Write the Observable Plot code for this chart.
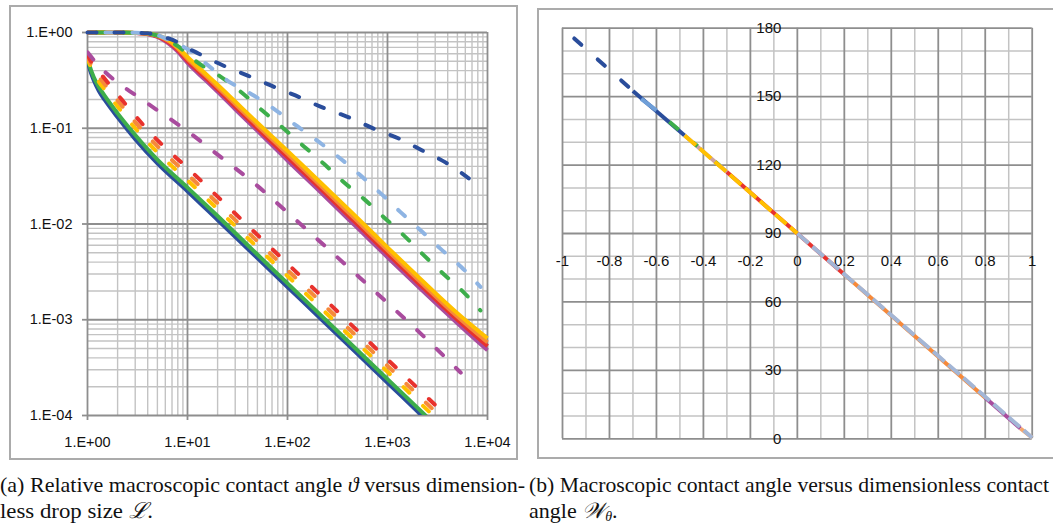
<!DOCTYPE html>
<html><head><meta charset="utf-8">
<script src="https://cdn.jsdelivr.net/npm/d3@7"></script>
<script src="https://cdn.jsdelivr.net/npm/@observablehq/plot@0.6"></script>
<style>
html,body{margin:0;padding:0;background:#fff;}
#wrap{position:relative;width:1053px;height:524px;overflow:hidden;background:#fff;}
#left{position:absolute;left:0;top:0;}
#right{position:absolute;left:530px;top:0;}
.frame{position:absolute;border:2px solid #ababab;box-sizing:border-box;pointer-events:none;}
#cap{position:absolute;left:0;top:460px;}
</style></head>
<body><div id="wrap">
<div id="left"></div>
<div id="right"></div>
<div class="frame" style="left:9px;top:5px;width:509px;height:455px"></div>
<div class="frame" style="left:537px;top:8px;width:530px;height:451px"></div>
<svg id="cap" width="1053" height="64" font-family="'Liberation Serif','Times New Roman',serif" font-size="22" fill="#111">
<text x="0" y="32" textLength="525" lengthAdjust="spacingAndGlyphs">(a) Relative macroscopic contact angle <tspan font-style="italic">ϑ</tspan> versus dimension-</text>
<text x="0" y="58" textLength="153" lengthAdjust="spacingAndGlyphs">less drop size <tspan font-style="italic">ℒ</tspan>.</text>
<text x="529" y="32" font-size="21" textLength="520" lengthAdjust="spacingAndGlyphs">(b) Macroscopic contact angle versus dimensionless contact</text>
<text x="529" y="58">angle <tspan font-style="italic">𝒲</tspan><tspan font-size="14" dy="3" font-style="italic">θ</tspan><tspan dy="-3">.</tspan></text>
</svg>
</div>
<script>
// ---------- Left panel: tick values and labels ----------
const leftXTicks = [1, 10, 100, 1000, 10000];
const leftXLabels = ["1.E+00", "1.E+01", "1.E+02", "1.E+03", "1.E+04"];
const leftYTicks = [1e-4, 1e-3, 1e-2, 1e-1, 1];
const leftYLabels = ["1.E-04", "1.E-03", "1.E-02", "1.E-01", "1.E+00"];

// Group A (plateau near 1, then decay)
const L_dbA = [1, 2, 3, 4, 5, 6, 8, 10, 13, 23, 40, 68, 120, 230, 410, 730, 1300, 2200, 3800, 6500];
const V_dbA = [1, 1, 0.995, 0.98, 0.95, 0.89, 0.79, 0.69, 0.6, 0.45, 0.355, 0.28, 0.22, 0.163, 0.13, 0.099, 0.078, 0.059, 0.044, 0.030];
const L_lbA = [1, 2, 3, 4, 5, 6, 8, 10, 15, 25, 46, 76, 125, 206, 340, 540, 850, 1350, 2140, 3400, 5400, 8500];
const V_lbA = [1, 1, 0.995, 0.98, 0.94, 0.87, 0.76, 0.67, 0.48, 0.315, 0.22, 0.155, 0.105, 0.072, 0.048, 0.032, 0.021, 0.0133, 0.0086, 0.0055, 0.0036, 0.0022];
const L_gA = [1, 2, 3, 4, 5, 6, 8, 10, 12.5, 20.6, 35, 56, 92, 145, 231, 366, 580, 900, 1400, 2220, 3520, 5590, 8500];
const V_gA = [1, 1, 0.995, 0.975, 0.93, 0.86, 0.72, 0.6, 0.49, 0.356, 0.235, 0.153, 0.099, 0.065, 0.0425, 0.0273, 0.0183, 0.012, 0.0079, 0.0049, 0.0031, 0.002, 0.00125];
const L_band = [1, 2, 3, 4, 5, 6, 7, 8, 10, 15, 20, 30, 50, 100, 200, 500, 1000, 2000, 5000, 10000];
const V_pA = [1, 1, 0.99, 0.96, 0.9, 0.81, 0.72, 0.63, 0.48, 0.32, 0.24, 0.158, 0.094, 0.046, 0.023, 0.0091, 0.0045, 0.00225, 0.00092, 0.00048];
const V_rA = [1, 1, 0.99, 0.965, 0.91, 0.83, 0.745, 0.655, 0.505, 0.34, 0.255, 0.168, 0.1, 0.05, 0.025, 0.0099, 0.0049, 0.00245, 0.001, 0.00053];
const V_oA = [1, 1, 0.99, 0.97, 0.92, 0.85, 0.77, 0.68, 0.53, 0.36, 0.27, 0.179, 0.107, 0.054, 0.027, 0.0107, 0.0053, 0.00265, 0.00108, 0.00058];
const V_yA = [1, 1, 0.99, 0.975, 0.93, 0.87, 0.79, 0.7, 0.555, 0.375, 0.285, 0.19, 0.114, 0.058, 0.029, 0.0116, 0.0057, 0.00285, 0.00117, 0.00064];

// Group B (steep start, lower family)
const L_B = [1, 1.05, 1.15, 1.3, 1.5, 2, 3, 5, 10, 20, 50, 100, 200, 500, 1000, 2000, 4000];
const V_dbB = [0.52, 0.42, 0.32, 0.245, 0.195, 0.13, 0.077, 0.043, 0.022, 0.011, 0.0044, 0.0022, 0.0011, 0.00044, 0.00022, 0.00011, 0.000055];
const V_gB = [0.55, 0.45, 0.345, 0.27, 0.215, 0.143, 0.085, 0.047, 0.024, 0.0121, 0.0048, 0.0024, 0.0012, 0.00048, 0.00024, 0.00012, 0.00006];
const V_yB = [0.55, 0.47, 0.38, 0.305, 0.25, 0.169, 0.1, 0.056, 0.0286, 0.0143, 0.0057, 0.00286, 0.00143, 0.00057, 0.000286, 0.000143, 0.0000715];
const V_oB = [0.57, 0.5, 0.42, 0.345, 0.285, 0.195, 0.116, 0.065, 0.033, 0.0165, 0.0066, 0.0033, 0.00165, 0.00066, 0.00033, 0.000165, 0.0000825];
const V_rB = [0.59, 0.53, 0.46, 0.39, 0.325, 0.225, 0.135, 0.075, 0.0385, 0.0193, 0.0077, 0.00385, 0.00193, 0.00077, 0.000385, 0.000193, 0.0000963];
const L_pB = [1, 1.25, 1.5, 2, 3, 5, 10, 20, 50, 100, 200, 500, 1000, 2000, 5400];
const V_pB = [0.62, 0.47, 0.387, 0.30, 0.223, 0.154, 0.093, 0.053, 0.025, 0.0132, 0.0069, 0.0029, 0.0015, 0.00077, 0.00028];

// ---------- Right panel ----------
const rightXTicks = [-1, -0.9, -0.8, -0.7, -0.6, -0.5, -0.4, -0.3, -0.2, -0.1, 0, 0.1, 0.2, 0.3, 0.4, 0.5, 0.6, 0.7, 0.8, 0.9, 1];
const rightXLabelTicks = [-1, -0.8, -0.6, -0.4, -0.2, 0, 0.2, 0.4, 0.6, 0.8, 1];
const rightXLabels = ["-1", "-0.8", "-0.6", "-0.4", "-0.2", "0", "0.2", "0.4", "0.6", "0.8", "1"];
const rightYTicks = [0, 10, 20, 30, 40, 50, 60, 70, 80, 90, 100, 110, 120, 130, 140, 150, 160, 170, 180];
const rightYLabelTicks = [0, 30, 60, 90, 120, 150, 180];
const rightYLabels = ["0", "30", "60", "90", "120", "150", "180"];

const rBlueDash = [[-0.95, 175.5], [-0.7, 152.5]];
const rBlueSolid = [[-0.7, 152.5], [-0.48, 133]];
const rLightBlue = [[-0.665, 149], [-0.6, 144]];
const rGreen1 = [[-0.545, 139], [-0.505, 135.5]];
const rRosy = [[-0.48, 133], [-0.3, 117]];
const rGreen2 = [[-0.445, 130], [-0.425, 128.3]];
const rGreen3 = [[-0.35, 121.5], [-0.33, 119.7]];
const rRed = [[-0.3, 117], [0.2, 72]];
const rOrange = [[0.2, 72], [0.8, 18]];
const rPurple = [[0.8, 18], [0.95, 4.5]];
const rPeach = [[0.95, 4.5], [1, 0.5]];
const rYellowDash = [[-0.48, 133], [0, 90]];
const rGrayDash = [[0, 90], [1, 0.5]];

// ---------- styles (kept apart from data) ----------
const C = {
  dblue: "#2A4D9B", lblue: "#8EB4E3", green: "#3DAE4B", yellow: "#FFC000",
  orange: "#F6893A", red: "#E8322D", purple: "#A94C9E", rosy: "#CDA3A2",
  gray: "#A3B6D6", peach: "#F5A66B"
};
const gridMajor = "#8e8e8e", gridMinor = "#c3c3c3";
const font = "'Liberation Sans', Arial, sans-serif";

function leftLine(Ls, Vs, color, dash, offset, clip) {
  return Plot.line(d3.zip(Ls, Vs), {
    x: d => d[0], y: d => d[1], stroke: color, strokeWidth: 4,
    strokeDasharray: dash || undefined, strokeDashoffset: offset || 0,
    strokeLinecap: dash ? "round" : "butt", strokeLinejoin: "round",
    curve: "monotone-x", clip: clip
  });
}

const decades = [1e-4, 1e-3, 1e-2, 1e-1, 1, 10, 100, 1000];
const minorVals = decades.flatMap(d => [2, 3, 4, 5, 6, 7, 8, 9].map(k => k * d));
const minorX = minorVals.filter(v => v > 1 && v < 1e4);
const minorY = minorVals.filter(v => v > 1e-4 && v < 1);

const left = Plot.plot({
  width: 525, height: 460,
  marginLeft: 87, marginRight: 38, marginTop: 32, marginBottom: 45,
  style: {fontFamily: font, fontSize: "14.5px", background: "transparent", color: "#111"},
  x: {type: "log", domain: [1, 1e4]},
  y: {type: "log", domain: [1e-4, 1]},
  marks: [
    Plot.ruleX(minorX, {stroke: gridMinor, strokeWidth: 1.4}),
    Plot.ruleY(minorY, {stroke: gridMinor, strokeWidth: 1.4}),
    Plot.ruleX(leftXTicks, {stroke: gridMajor, strokeWidth: 1.8}),
    Plot.ruleY(leftYTicks, {stroke: gridMajor, strokeWidth: 1.8}),
    Plot.axisX({ticks: leftXTicks, tickFormat: d => leftXLabels[leftXTicks.indexOf(d)], tickSize: 5, tickPadding: 16, stroke: gridMajor, strokeWidth: 1.8, fill: "#111", fontSize: 14.5, label: null}),
    Plot.axisY({ticks: leftYTicks, tickFormat: d => leftYLabels[leftYTicks.indexOf(d)], tickSize: 5, tickPadding: 10, stroke: gridMajor, strokeWidth: 1.8, fill: "#111", fontSize: 14.5, label: null}),
    // group B
    leftLine(L_B, V_dbB, C.dblue, null, 0, true),
    leftLine(L_B, V_gB, C.green, null, 0, true),
    leftLine(L_B, V_yB, C.yellow, "8,19", 0, true),
    leftLine(L_B, V_oB, C.orange, "8,19", 0, true),
    leftLine(L_B, V_rB, C.red, "8,19", 0, true),
    leftLine(L_pB, V_pB, C.purple, "9,18", 0, true),
    // group A band
    leftLine(L_band, V_pA, C.purple, null, 0, false),
    leftLine(L_band, V_rA, C.red, null, 0, false),
    leftLine(L_band, V_oA, C.orange, null, 0, false),
    leftLine(L_band, V_yA, C.yellow, null, 0, false),
    // group A dashed
    leftLine(L_gA, V_gA, C.green, "9,18", 18, false),
    leftLine(L_lbA, V_lbA, C.lblue, "9,18", 9, false),
    leftLine(L_dbA, V_dbA, C.dblue, "9,18", 0, false)
  ]
});
document.getElementById("left").appendChild(left);

function rLine(data, color, dash) {
  return Plot.line(data, {
    x: d => d[0], y: d => d[1], stroke: color, strokeWidth: 4,
    strokeDasharray: dash || undefined,
    strokeLinecap: dash && dash.startsWith("9.5") ? "round" : "butt"
  });
}

const isMajorX = v => Math.abs(Math.round(v * 10)) % 2 === 0;
const right = Plot.plot({
  width: 523, height: 460,
  marginLeft: 32, marginRight: 21.3, marginTop: 27.7, marginBottom: 21.7,
  style: {fontFamily: font, fontSize: "15px", background: "transparent", color: "#111"},
  x: {domain: [-1, 1], axis: null},
  y: {domain: [0, 180], axis: null},
  marks: [
    Plot.ruleX(rightXTicks.filter(v => !isMajorX(v)), {stroke: gridMinor, strokeWidth: 1.5}),
    Plot.ruleY(rightYTicks.filter(v => v % 30 !== 0), {stroke: gridMinor, strokeWidth: 1.5}),
    Plot.ruleX(rightXTicks.filter(isMajorX), {stroke: gridMajor, strokeWidth: 1.8}),
    Plot.ruleY(rightYTicks.filter(v => v % 30 === 0), {stroke: gridMajor, strokeWidth: 1.8}),
    Plot.text(rightYLabelTicks, {x: 0, y: d => d, text: d => rightYLabels[rightYLabelTicks.indexOf(d)], textAnchor: "end", dx: -16, fill: "#111", fontSize: 15}),
    Plot.text(rightXLabelTicks, {x: d => d, y: 90, text: d => rightXLabels[rightXLabelTicks.indexOf(d)], dy: 28, fill: "#111", fontSize: 15}),
    rLine(rBlueDash, C.dblue, "9.5,22"),
    rLine(rBlueSolid, C.dblue),
    rLine(rLightBlue, "#6F9FD8"),
    rLine(rGreen1, C.green),
    rLine(rRosy, C.rosy),
    rLine(rGreen2, C.green),
    rLine(rGreen3, C.green),
    rLine(rRed, C.red),
    rLine(rOrange, C.orange),
    rLine(rPurple, C.purple),
    rLine(rPeach, C.peach),
    rLine(rYellowDash, C.yellow, "15,5"),
    rLine(rGrayDash, C.gray, "15,5")
  ]
});
document.getElementById("right").appendChild(right);
</script>
</body></html>
